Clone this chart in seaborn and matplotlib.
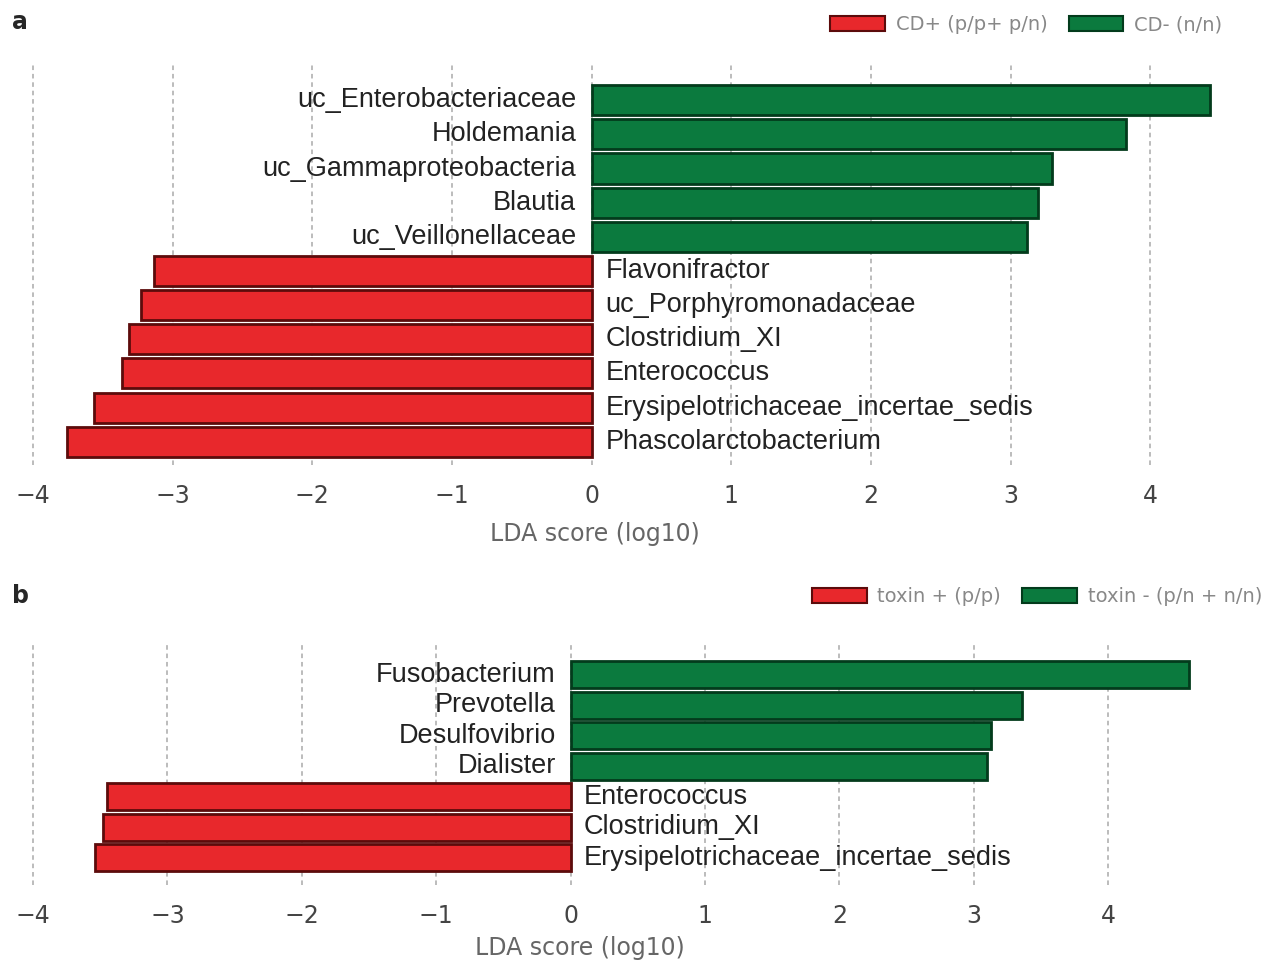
import matplotlib
matplotlib.use('Agg')
import matplotlib.pyplot as plt
import pandas as pd
import seaborn as sns
from matplotlib.patches import Patch

sns.set_style('white')
plt.rcParams['font.family'] = ['DejaVu Sans']

# panel a: CD+ vs CD-
taxa_a = ['uc_Enterobacteriaceae', 'Holdemania', 'uc_Gammaproteobacteria', 'Blautia',
          'uc_Veillonellaceae', 'Flavonifractor', 'uc_Porphyromonadaceae', 'Clostridium_XI',
          'Enterococcus', 'Erysipelotrichaceae_incertae_sedis', 'Phascolarctobacterium']
lda_a = [4.43, 3.83, 3.30, 3.20, 3.12, -3.13, -3.23, -3.31, -3.36, -3.56, -3.76]
groups_a = ['CD- (n/n)'] * 5 + ['CD+ (p/p+ p/n)'] * 6
legend_a = ['CD+ (p/p+ p/n)', 'CD- (n/n)']

# panel b: toxin+ vs toxin-
taxa_b = ['Fusobacterium', 'Prevotella', 'Desulfovibrio', 'Dialister',
          'Enterococcus', 'Clostridium_XI', 'Erysipelotrichaceae_incertae_sedis']
lda_b = [4.60, 3.36, 3.13, 3.10, -3.45, -3.48, -3.54]
groups_b = ['toxin - (p/n + n/n)'] * 4 + ['toxin + (p/p)'] * 3
legend_b = ['toxin + (p/p)', 'toxin - (p/n + n/n)']

RED, RED_EDGE = '#e8282c', '#5c0b0b'
GREEN, GREEN_EDGE = '#0b7a3e', '#033b1c'


def draw_panel(fig, rect, taxa, lda, groups, legend_labels, xlim, ylim, letter, letter_y,
               legend_xy, label_xy):
    ax = fig.add_axes(rect)
    df = pd.DataFrame({'taxon': taxa, 'lda': lda, 'group': groups})
    pal = {legend_labels[0]: RED, legend_labels[1]: GREEN}
    sns.barplot(data=df, x='lda', y='taxon', hue='group', palette=pal, dodge=False,
                width=0.88, saturation=1, legend=False, ax=ax)
    for p in ax.patches:
        fc = matplotlib.colors.to_hex(p.get_facecolor())
        p.set_edgecolor(RED_EDGE if fc == RED else GREEN_EDGE)
        p.set_linewidth(2)

    for i, (t, v) in enumerate(zip(taxa, lda)):
        if v > 0:
            ax.text(-0.11, i, t, ha='right', va='center', fontsize=19.5,
                    family='Liberation Sans', color='#222222')
        else:
            ax.text(0.1, i, t, ha='left', va='center', fontsize=19.5,
                    family='Liberation Sans', color='#222222')

    ax.set_xlim(*xlim)
    ax.set_ylim(*ylim)
    ax.set_yticks([])
    ax.set_ylabel('')
    ax.set_xticks(range(-4, 5))
    ax.xaxis.grid(True, linestyle=(0, (3, 2.5)), color='#aaaaaa', linewidth=1.1)
    ax.set_axisbelow(True)
    ax.tick_params(axis='x', length=0, pad=14, labelsize=17, labelcolor='#444444')
    ax.set_xlabel('LDA score (log10)', fontsize=17, color='#666666')
    ax.xaxis.set_label_coords(*label_xy)
    sns.despine(ax=ax, left=True, bottom=True)

    fig.text(12 / 1262, letter_y, letter, fontsize=17, fontweight='bold', va='center')
    handles = [Patch(facecolor=RED, edgecolor=RED_EDGE, linewidth=1.5),
               Patch(facecolor=GREEN, edgecolor=GREEN_EDGE, linewidth=1.5)]
    fig.legend(handles, legend_labels, loc='center right', bbox_to_anchor=legend_xy, ncol=2,
               frameon=False, fontsize=14, labelcolor='#888888', handlelength=2.8,
               handleheight=0.8, columnspacing=1.1, handletextpad=0.55,
               borderaxespad=0, borderpad=0)
    return ax


fig = plt.figure(figsize=(12.62, 9.63), dpi=100)

draw_panel(fig, [27 / 1262, 1 - 465 / 963, 1193 / 1262, 400 / 963],
           taxa_a, lda_a, groups_a, legend_a,
           (-4.043, 4.50), (10.68, -1.03), 'a', 1 - 22 / 963, (1222 / 1262, 1 - 25 / 963),
           ((595 - 27) / 1193, -(522 - 465) / 400))

draw_panel(fig, [27 / 1262, 1 - 885 / 963, 1182 / 1262, 240 / 963],
           taxa_b, lda_b, groups_b, legend_b,
           (-4.045, 4.75), (6.89, -0.98), 'b', 1 - 596 / 963, (1262 / 1262, 1 - 597 / 963),
           ((580 - 27) / 1182, -(936 - 885) / 240))

fig.savefig('out.png', dpi=100)
